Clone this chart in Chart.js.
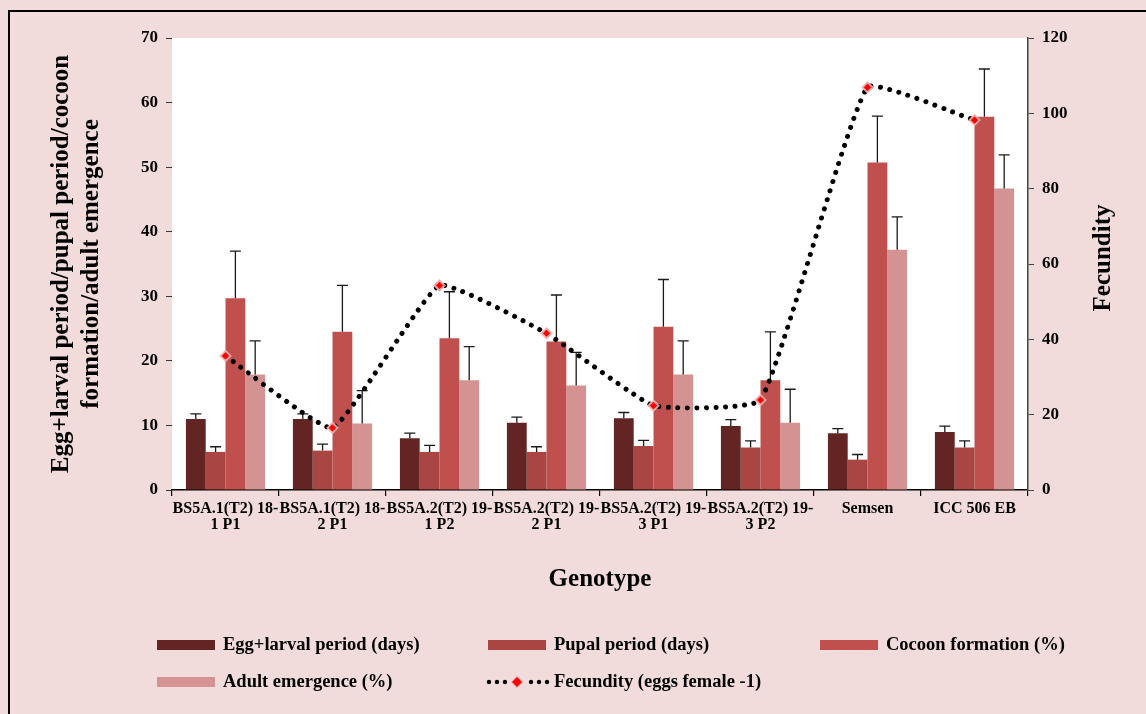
<!DOCTYPE html>
<html>
<head>
<meta charset="utf-8">
<script src="https://cdn.jsdelivr.net/npm/chart.js@4.4.1/dist/chart.umd.min.js"></script>
<style>
  html, body { margin: 0; padding: 0; overflow: hidden; background: #f2dcdb; }
  #wrap { position: absolute; left: 0; top: 0; width: 1146px; height: 714px; }
  #frame { position: absolute; left: 8px; top: 10px; width: 1150px; height: 720px; border: 2px solid #000; pointer-events: none; }
</style>
</head>
<body>
<div id="wrap"><canvas id="chart"></canvas></div>
<div id="frame"></div>
<script>
// genotype labels, as they wrap in the original figure
const genotypes = [
  ['BS5A.1(T2) 18-', '1 P1'],
  ['BS5A.1(T2) 18-', '2 P1'],
  ['BS5A.2(T2) 19-', '1 P2'],
  ['BS5A.2(T2) 19-', '2 P1'],
  ['BS5A.2(T2) 19-', '3 P1'],
  ['BS5A.2(T2) 19-', '3 P2'],
  'Semsen',
  'ICC 506 EB'
];

const eggLarval = [11.0, 11.0, 8.0, 10.4, 11.1, 9.9, 8.8, 9.0];
const eggLarvalErr = [0.8, 0.8, 0.8, 0.9, 0.9, 1.0, 0.7, 0.9];
const pupal = [5.9, 6.1, 5.9, 5.9, 6.8, 6.6, 4.7, 6.6];
const pupalErr = [0.8, 1.0, 1.0, 0.8, 0.9, 1.0, 0.8, 1.0];
const cocoon = [29.7, 24.5, 23.5, 23.0, 25.3, 17.0, 50.7, 57.8];
const cocoonErr = [7.3, 7.2, 7.2, 7.2, 7.3, 7.5, 7.2, 7.4];
const adult = [17.9, 10.3, 17.0, 16.2, 17.9, 10.4, 37.2, 46.7];
const adultErr = [5.2, 5.1, 5.2, 5.1, 5.2, 5.2, 5.1, 5.2];
const fecundity = [35.6, 16.5, 54.3, 41.6, 22.4, 23.9, 106.9, 98.2];

const leftTicks = { min: 0, max: 70, step: 10 };
const rightTicks = { min: 0, max: 120, step: 20 };

const serif = "'Liberation Serif', 'Times New Roman', serif";

// white plot area on the pink page
const plotBackground = {
  id: 'plotBackground',
  beforeDraw(chart) {
    const { ctx, chartArea: a } = chart;
    ctx.save();
    ctx.fillStyle = '#ffffff';
    ctx.fillRect(a.left, a.top, a.right - a.left, a.bottom - a.top);
    ctx.restore();
  }
};

// upper error bars, drawn right after each bar dataset
const errorBars = {
  id: 'errorBars',
  afterDatasetDraw(chart, args) {
    const ds = chart.data.datasets[args.index];
    if (!ds.errors) return;
    const meta = args.meta;
    const yScale = chart.scales[meta.yAxisID];
    const ctx = chart.ctx;
    ctx.save();
    ctx.strokeStyle = '#1a1a1a';
    ctx.lineWidth = 1.3;
    meta.data.forEach((bar, i) => {
      const top = yScale.getPixelForValue(ds.data[i] + ds.errors[i]);
      ctx.beginPath();
      ctx.moveTo(bar.x, bar.y);
      ctx.lineTo(bar.x, top);
      ctx.moveTo(bar.x - 5.5, top);
      ctx.lineTo(bar.x + 5.5, top);
      ctx.stroke();
    });
    ctx.restore();
  }
};

// legend laid out in a 3 column grid + the right axis title (reads bottom to top)
const gridLegend = {
  id: 'gridLegend',
  afterDraw(chart) {
    const ctx = chart.ctx;
    const cols = [157, 488, 820];
    const rows = [645, 682];
    ctx.save();
    ctx.font = 'bold 18.5px ' + serif;
    ctx.textBaseline = 'middle';
    ctx.fillStyle = '#000';
    chart.data.datasets.forEach((ds, i) => {
      const x = cols[i % 3];
      const y = rows[Math.floor(i / 3)];
      if (ds.type === 'line') {
        ctx.fillStyle = '#000';
        [0, 8, 16, 42, 50, 58].forEach(dx => {
          ctx.beginPath();
          ctx.arc(x + 1 + dx, y, 2.2, 0, Math.PI * 2);
          ctx.fill();
        });
        ctx.beginPath();
        ctx.moveTo(x + 29, y - 5);
        ctx.lineTo(x + 34, y);
        ctx.lineTo(x + 29, y + 5);
        ctx.lineTo(x + 24, y);
        ctx.closePath();
        ctx.fillStyle = '#ff0000';
        ctx.strokeStyle = 'rgba(240,180,180,0.9)';
        ctx.lineWidth = 2;
        ctx.stroke();
        ctx.fill();
      } else {
        ctx.fillStyle = ds.backgroundColor;
        ctx.fillRect(x, y - 5, 58, 10);
      }
      ctx.fillStyle = '#000';
      ctx.fillText(ds.label, x + 66, y);
    });

    ctx.translate(1104, 258);
    ctx.rotate(-Math.PI / 2);
    ctx.textAlign = 'center';
    ctx.font = 'bold 25px ' + serif;
    ctx.fillText('Fecundity', 0, 0);
    ctx.restore();
  }
};

const tickFont = { family: serif, size: 17, weight: 'bold' };

new Chart(document.getElementById('chart'), {
  data: {
    labels: genotypes,
    datasets: [
      {
        type: 'bar', label: 'Egg+larval period (days)', data: eggLarval, errors: eggLarvalErr,
        backgroundColor: '#632523', yAxisID: 'y', order: 1
      },
      {
        type: 'bar', label: 'Pupal period (days)', data: pupal, errors: pupalErr,
        backgroundColor: '#a94643', yAxisID: 'y', order: 1
      },
      {
        type: 'bar', label: 'Cocoon formation (%)', data: cocoon, errors: cocoonErr,
        backgroundColor: '#c0504d', yAxisID: 'y', order: 1
      },
      {
        type: 'bar', label: 'Adult emergence (%)', data: adult, errors: adultErr,
        backgroundColor: '#d49392', yAxisID: 'y', order: 1
      },
      {
        type: 'line', label: 'Fecundity (eggs female -1)', data: fecundity, yAxisID: 'y1', order: 0,
        borderColor: '#000', borderWidth: 5, borderDash: [0.01, 9.5], borderCapStyle: 'round',
        tension: 0.12, fill: false,
        pointStyle: 'rectRot', pointRadius: 5, pointBackgroundColor: '#ff0000',
        pointBorderColor: 'rgba(240,180,180,0.9)', pointBorderWidth: 2
      }
    ]
  },
  options: {
    responsive: true,
    maintainAspectRatio: false,
    animation: false,
    layout: { padding: { left: 0, right: 0, top: 38, bottom: 114 } },
    datasets: { bar: { categoryPercentage: 0.74, barPercentage: 1.0 } },
    plugins: { legend: { display: false }, tooltip: { enabled: false } },
    scales: {
      x: {
        offset: true,
        grid: { display: true, offset: true, drawOnChartArea: false, drawTicks: true, tickLength: 6, color: '#000', lineWidth: 1.2 },
        border: { display: true, color: '#000', width: 1.5 },
        ticks: {
          color: '#000', font: { family: serif, size: 16, weight: 'bold', lineHeight: 1.05 },
          maxRotation: 0, minRotation: 0, autoSkip: false, padding: 4
        },
        title: {
          display: true, text: 'Genotype', color: '#000',
          font: { family: serif, size: 25, weight: 'bold', lineHeight: 1.2 },
          padding: { top: 0, bottom: 5 }
        },
        afterFit(scale) { scale.height = 110; }
      },
      y: {
        position: 'left', min: leftTicks.min, max: leftTicks.max,
        ticks: { stepSize: leftTicks.step, color: '#000', font: tickFont, padding: 8 },
        grid: { drawOnChartArea: false, tickLength: 6, color: '#333' },
        border: { display: false },
        title: {
          display: true, color: '#000',
          text: ['Egg+larval period/pupal period/cocoon', 'formation/adult emergence'],
          font: { family: serif, size: 25, weight: 'bold', lineHeight: 1.2 },
          padding: { top: 47, bottom: 0 }
        },
        afterFit(scale) { scale.width = 172; }
      },
      y1: {
        position: 'right', min: rightTicks.min, max: rightTicks.max,
        ticks: { stepSize: rightTicks.step, color: '#000', font: tickFont, padding: 8 },
        grid: { drawOnChartArea: false, tickLength: 6, color: '#444' },
        border: { display: true, color: '#444', width: 1.5 },
        afterFit(scale) { scale.width = 118; }
      }
    }
  },
  plugins: [plotBackground, errorBars, gridLegend]
});
</script>
</body>
</html>
